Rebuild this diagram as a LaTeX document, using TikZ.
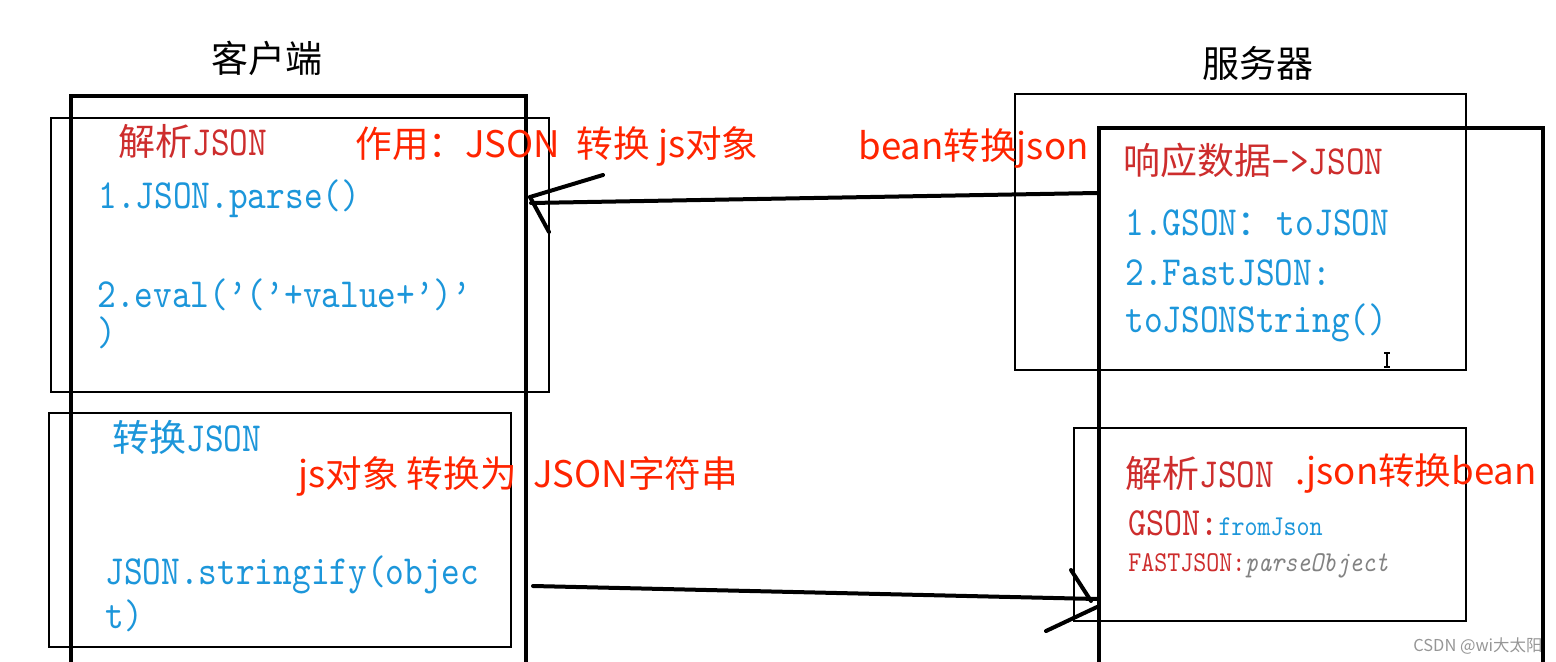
\documentclass[tikz,border=0pt]{standalone}
\usepackage{fontspec}
\newfontfamily\cjk{Noto Sans CJK SC}
\newfontfamily\simmono{lmmono10-regular}[Extension=.otf, FakeStretch=0.86, ItalicFont=lmmono10-italic]
\definecolor{annred}{RGB}{255,36,0}
\definecolor{boxred}{RGB}{205,45,45}
\definecolor{codeblue}{RGB}{28,150,218}
\definecolor{wmgray}{RGB}{150,150,150}
\definecolor{itgray}{RGB}{130,130,130}
\newcommand\fTitle{\fontsize{18.5}{22}\selectfont}
\newcommand\fAnn{\fontsize{18.3}{22}\selectfont}
\newcommand\fCode{\fontsize{20.7}{24}\selectfont\simmono}
\newcommand\fMid{\fontsize{20}{24}\selectfont\simmono}
\newcommand\fSmall{\fontsize{14.4}{17}\selectfont\simmono}
\newcommand\fWm{\fontsize{8.2}{10}\selectfont}
\tikzset{
  bigframe/.style={draw, line width=2pt, rectangle, inner sep=0pt},
  thinbox/.style={draw, line width=1.4pt, rectangle, inner sep=0pt},
  conn/.style={line width=2pt, line cap=round},
  txt/.style={anchor=base west, inner sep=0pt},
  title/.style={anchor=center, inner sep=0pt, font=\cjk\fTitle},
  ann/.style={txt, text=annred, font=\cjk\fAnn},
  code/.style={txt, text=codeblue, font=\fCode},
  boxtitle/.style={txt, text=boxred},
}
\begin{document}
\begin{tikzpicture}[x=0.5pt,y=-0.5pt]
\useasboundingbox (0,0) rectangle (1556,662);
% frames and boxes
\node[bigframe, minimum width=227.5pt, minimum height=312pt] (client) at (298.5,408) {};
\node[thinbox, minimum width=249pt, minimum height=137pt] (parsebox) at (300,255) {};
\node[thinbox, minimum width=231pt, minimum height=117pt] (convbox) at (280,530) {};
\node[thinbox, line width=1.3pt, minimum width=225.5pt, minimum height=138pt] (srvtop) at (1240.5,232) {};
\node[bigframe, minimum width=222pt, minimum height=296pt] (server) at (1321,424) {};
\node[thinbox, line width=1.3pt, minimum width=196pt, minimum height=96.5pt] (srvbot) at (1270,524.5) {};
% titles
\node[title] (tclient) at (267,58) {客户端};
\node[title] (tserver) at (1258,63) {服务器};
% client texts
\node[boxtitle] (p1) at (118,156) {{\cjk\fTitle 解析}{\fCode JSON}};
\node[ann] (a1) at (355,158) {作用：JSON\ \ 转换 js对象};
\node[code] (c1) at (98,209) {1.JSON.parse()};
\node[code] (c2) at (97,307) {2.eval(’(’+value+’)’};
\node[code] (c3) at (97,345) {)};
\node[txt, text=codeblue] (p2) at (112,451) {{\cjk\fTitle 转换}{\fCode JSON}};
\node[ann] (a2) at (298,487) {js对象 转换为\ \ JSON字符串};
\node[code] (c4) at (105,584) {JSON.stringify(objec};
\node[code] (c5) at (105,628) {t)};
% server texts
\node[ann] (a3) at (858,160) {bean转换json};
\node[boxtitle] (r1) at (1123,175) {{\cjk\fTitle 响应数据}{\fCode ->JSON}};
\node[code] (s1) at (1125,236) {1.GSON{\cjk\fontsize{17.7}{21}\selectfont ：}\kern2pt toJSON};
\node[code] (s2) at (1125,286) {2.FastJSON:};
\node[code] (s3) at (1125,333) {toJSONString()};
\node[boxtitle] (r2) at (1125,487) {{\cjk\fTitle 解析}{\fCode JSON}};
\node[ann] (a4) at (1295,484) {.json转换bean};
\node[txt] (s4) at (1128,535) {{\color{boxred}\fMid GSON:}{\color{codeblue}\fSmall fromJson}};
\node[txt] (s5) at (1128,571) {{\color{boxred}\fSmall FASTJSON:}{\color{itgray}\fSmall\itshape parseObject}};
\node[txt, text=wmgray, font=\cjk\fWm] (wm) at (1413,651) {CSDN @wi大太阳};
% text cursor
\draw[line width=0.6pt] (1387,353) -- (1387,367) (1384,353) -- (1390,353) (1384,367) -- (1390,367);
% helper heights
\coordinate (h1) at (0,193);
\coordinate (h2) at (0,197);
\coordinate (h3) at (0,599);
% top arrow: server -> client
\coordinate (a1s) at (server.west |- h1);
\coordinate (tip1) at ([xshift=1pt]client.east |- h2);
\draw[conn] (a1s) -- ([shift={(1,6)}]tip1);
\draw[conn] (tip1) -- ++(73,-22);
\draw[conn] (tip1) -- ++(19,35);
% bottom arrow: client -> server
\coordinate (b1s) at (533,586);
\coordinate (tip2) at (server.west |- h3);
\draw[conn] (b1s) -- (tip2);
\draw[conn] (tip2) ++(-6,2) -- ++(-20,-31);
\draw[conn] (tip2) ++(0,8) -- ++(-51,24);
\end{tikzpicture}
\end{document}
